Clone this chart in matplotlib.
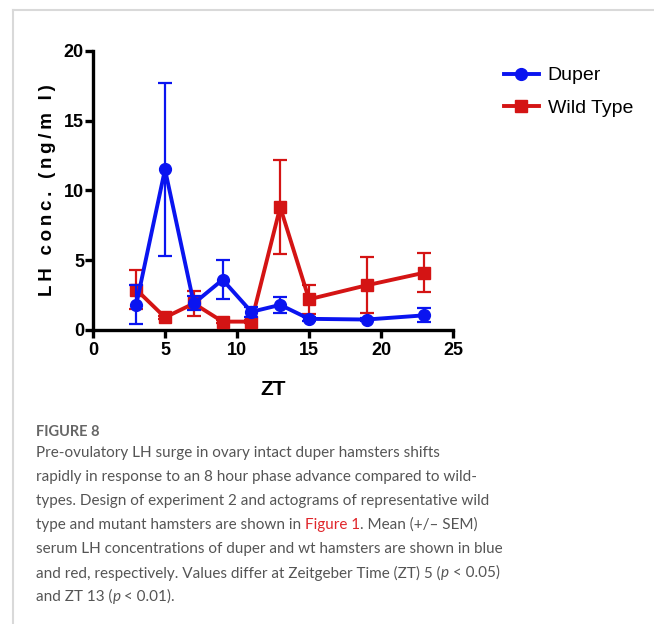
import matplotlib
matplotlib.use("Agg")
import matplotlib.pyplot as plt

# ---- data ----
zt = [3, 5, 7, 9, 11, 13, 15, 19, 23]
duper_mean = [1.8, 11.5, 1.9, 3.6, 1.3, 1.8, 0.8, 0.75, 1.05]
duper_sem = [1.4, 6.2, 0.5, 1.4, 0.35, 0.55, 0.15, 0.1, 0.5]
wt_mean = [2.9, 0.9, 1.9, 0.6, 0.6, 8.8, 2.2, 3.2, 4.1]
wt_sem = [1.4, 0.1, 0.9, 0.1, 0.1, 3.35, 1.05, 2.0, 1.4]
series_names = ["Duper", "Wild Type"]
x_ticks = [0, 5, 10, 15, 20, 25]
y_ticks = [0, 5, 10, 15, 20]

BLUE = "#0a14f0"
RED = "#d41414"

fig = plt.figure(figsize=(6.54, 6.24), dpi=100)
fig.patch.set_facecolor("white")

# light frame around the figure panel
fig.add_artist(plt.Line2D([13 / 654, 13 / 654], [0, 1 - 10 / 624], transform=fig.transFigure,
                          color="#d9d9d9", lw=1.5))
fig.add_artist(plt.Line2D([13 / 654, 1], [1 - 10 / 624, 1 - 10 / 624], transform=fig.transFigure,
                          color="#d9d9d9", lw=1.5))

ax = fig.add_axes([93 / 654, 1 - 330 / 624, 360 / 654, (330 - 50.7) / 624])
ax.set_xlim(0, 25)
ax.set_ylim(0, 20)

AX_FONT = ["Liberation Sans", "DejaVu Sans"]
tick_font = dict(family=AX_FONT, weight="bold", size=13)

handles = {}
for mean, sem, col, mk, ms, name, z in [
    (wt_mean, wt_sem, RED, "s", 8, series_names[1], 3),
    (duper_mean, duper_sem, BLUE, "o", 8.5, series_names[0], 4),
]:
    eb = ax.errorbar(zt, mean, yerr=sem, color=col, lw=2.8, marker=mk, ms=ms,
                     elinewidth=1.6, capsize=5, capthick=1.6, label=name, zorder=z,
                     clip_on=False)
    handles[name] = eb.lines[0]

for s in ["top", "right"]:
    ax.spines[s].set_visible(False)
for s in ["left", "bottom"]:
    ax.spines[s].set_linewidth(2.4)
ax.tick_params(axis="both", width=2.4, length=5.5, direction="out")
ax.set_xticks(x_ticks)
ax.set_yticks(y_ticks)
ax.set_xticklabels([str(v) for v in x_ticks], fontdict=tick_font)
ax.set_yticklabels([str(v) for v in y_ticks], fontdict=tick_font)
ax.tick_params(axis="y", pad=1)
ax.tick_params(axis="x", pad=3)

ylab = "\u2009".join("LH conc. (ng/m l)")
ax.set_ylabel(ylab, fontdict=dict(family=AX_FONT, weight="bold", size=13.5), labelpad=6)
ax.set_xlabel("ZT", fontdict=dict(family=AX_FONT, weight="bold", size=15), labelpad=15)

leg = ax.legend([handles[n] for n in series_names], series_names,
                loc="upper left", bbox_to_anchor=(496 / 654, 1 - 59 / 624), bbox_transform=fig.transFigure,
                frameon=False, prop=dict(family=["Liberation Sans", "DejaVu Sans"], size=14),
                handlelength=1.8, handletextpad=0.45, labelspacing=0.75, borderaxespad=0)

# ---- caption ----
CAP = "#555555"
cap_font = ["Lato", "DejaVu Sans"]
fig.text(36 / 654, 1 - 432 / 624, "FIGURE 8", color="#666666", fontsize=10.5, family=cap_font,
         weight="bold", va="center", ha="left")

lines = [
    [("Pre-ovulatory LH surge in ovary intact duper hamsters shifts", CAP, "normal")],
    [("rapidly in response to an 8 hour phase advance compared to wild-", CAP, "normal")],
    [("types. Design of experiment 2 and actograms of representative wild", CAP, "normal")],
    [("type and mutant hamsters are shown in ", CAP, "normal"), ("Figure 1", "#e0262b", "normal"),
     (". Mean (+/\u2013 SEM)", CAP, "normal")],
    [("serum LH concentrations of duper and wt hamsters are shown in blue", CAP, "normal")],
    [("and red, respectively. Values differ at Zeitgeber Time (ZT) 5 (", CAP, "normal"), ("p", CAP, "italic"),
     (" < 0.05)", CAP, "normal")],
    [("and ZT 13 (", CAP, "normal"), ("p", CAP, "italic"), (" < 0.01).", CAP, "normal")],
]
renderer = fig.canvas.get_renderer()
y0 = 453
for i, segs in enumerate(lines):
    x = 36.0
    y = 1 - (y0 + i * 24) / 624
    for txt, col, style in segs:
        t = fig.text(x / 654, y, txt, color=col, fontsize=10.95, family=cap_font, style=style,
                     weight="normal", va="center", ha="left")
        bb = t.get_window_extent(renderer=renderer)
        x += bb.width

fig.savefig("out.png", dpi=100, facecolor="white")
